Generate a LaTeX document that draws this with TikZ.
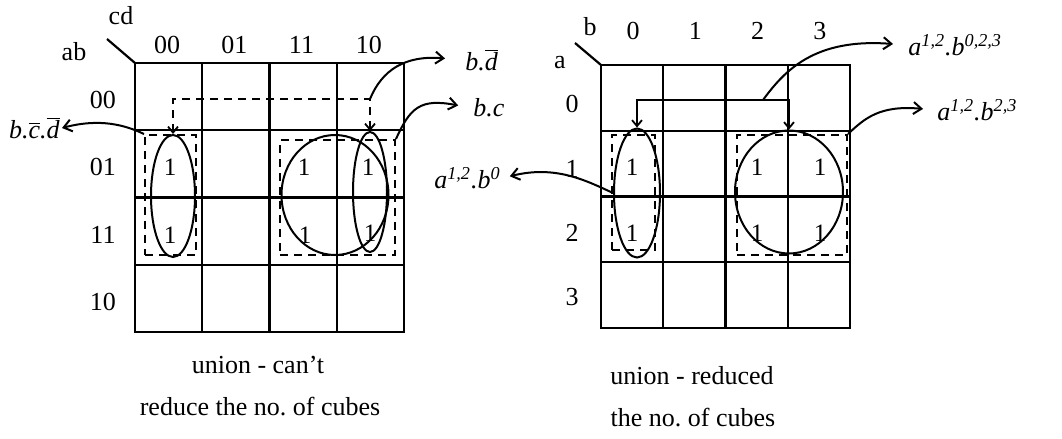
\documentclass[tikz,border=0pt]{standalone}
\usepackage{fontspec}
\setmainfont{Liberation Serif}
\usetikzlibrary{arrows.meta,positioning,calc,shapes.geometric}
\newcommand{\nt}[1]{\ensuremath{\overline{\mbox{\itshape #1}}}}
\newcommand{\sps}[1]{\textsuperscript{\itshape #1}}
\frenchspacing
\begin{document}
\begin{tikzpicture}[x=0.5pt, y=-0.5pt,
  font=\fontsize{13}{15}\selectfont,
  kgrid/.style={line width=1.1pt},
  bit/.style={font=\fontsize{12.5}{14}\selectfont, inner sep=0pt},
  grp/.style={draw, ellipse, line width=1pt, inner sep=0pt},
  cube/.style={draw, line width=1pt, dash pattern=on 4pt off 3pt, inner sep=0pt},
  lbl/.style={font=\fontsize{13}{15}\selectfont\itshape, inner sep=1pt},
  note/.style={font=\fontsize{13}{15}\selectfont},
  arr/.style={-{Straight Barb[length=4pt,width=6pt]}, line width=1pt},
  pair/.style={{Straight Barb[length=3pt,width=5pt]}-{Straight Barb[length=3pt,width=5pt]}, line width=0.9pt}]
\useasboundingbox (0,0) rectangle (1062,439);
% left map
\draw[kgrid] (135,63) rectangle (404,332);
\foreach \k in {1,2,3} {
  \draw[kgrid] (135+67.25*\k,63) -- (135+67.25*\k,332);
  \draw[kgrid] (135,63+67.25*\k) -- (404,63+67.25*\k);
}
\draw[kgrid] (135,63) -- (107,39);
\node (cd) at (121,16) {cd};
\node (ab) at (74,52) {ab};
\foreach \t [count=\i from 0] in {00,01,11,10} {
  \node (lc\i) at (167+67.25*\i,45) {\t};
  \node (lr\i) at (103,100+67.25*\i) {\t};
}
\node[bit] (l1) at (170,167) {1};
\node[bit] (l2) at (170,235) {1};
\node[bit] (l3) at (304,167) {1};
\node[bit] (l4) at (305,235) {1};
\node[bit] (l5) at (368,167) {1};
\node[bit] (l6) at (370,233) {1};
\node[cube, minimum width=25.5pt, minimum height=60pt] (r1) at (170.5,195) {};
\node[cube, minimum width=57.5pt, minimum height=57.5pt] (r2) at (337.5,197.5) {};
\node[grp, minimum width=22pt, minimum height=61pt] (e1) at (173,196) {};
\node[grp, minimum width=53.5pt, minimum height=60pt] (e2) at (335,195) {};
\node[grp, minimum width=17pt, minimum height=60pt] (e3) at (370,192) {};
\path (e1.north) ++(0,-35) coordinate (jl);
\coordinate (jl2) at (e3.north |- jl);
\draw[pair, dash pattern=on 4pt off 3pt] (e1.north) -- (jl) -- (jl2) -- (e3.north);
\node[lbl, anchor=west] (bd) at (463,60) {b.\nt{d}};
\node[lbl, anchor=west] (bc) at (471,108) {b.c};
\node[lbl, anchor=east] (bcd) at (62,128) {b.\nt{c}.\nt{d}};
\draw[arr, shorten >=9pt] (jl2) .. controls (382,70) and (405,55) .. (bd.west);
\draw[arr, shorten >=6.5pt] (r2.north east) .. controls (410,108) and (420,98) .. (bc.west);
\draw[arr] (r1.north west) .. controls (125,125) and (100,118) .. (bcd.east);
% right map
\draw[kgrid] (601,65) rectangle (850,328);
\foreach \k in {1,2,3} {
  \draw[kgrid] (601+62.25*\k,65) -- (601+62.25*\k,328);
  \draw[kgrid] (601,65+65.75*\k) -- (850,65+65.75*\k);
}
\draw[kgrid] (601,65) -- (575,43);
\node (b) at (590,27) {b};
\node (a) at (560,63) {a};
\foreach \t [count=\i from 0] in {0,1,2,3} {
  \node (rc\i) at (633+62.25*\i,31) {\t};
  \node (rr\i) at (572,104+64.5*\i) {\t};
}
\node[bit] (m1) at (632,167) {1};
\node[bit] (m2) at (632,233) {1};
\node[bit] (m3) at (757,167) {1};
\node[bit] (m4) at (820,167) {1};
\node[bit] (m5) at (757,233) {1};
\node[bit] (m6) at (820,233) {1};
\node[cube, minimum width=21.5pt, minimum height=57.5pt] (r3) at (633.5,192.5) {};
\node[cube, minimum width=55pt, minimum height=60pt] (r4) at (792,195) {};
\node[grp, minimum width=23pt, minimum height=64.5pt] (e4) at (637,193) {};
\node[grp, minimum width=54pt, minimum height=61.5pt] (e5) at (789,192) {};
\coordinate (jr) at (763,100);
\draw[pair] (e4.north) |- (jr) -| (e5.north);
\node[lbl, anchor=west] (abt) at (906,45) {a\sps{1,2}.b\sps{0,2,3}};
\node[lbl, anchor=west] (abs) at (935,110) {a\sps{1,2}.b\sps{2,3}};
\node[lbl, anchor=east] (ab0) at (503,178) {a\sps{1,2}.b\sps{0}};
\draw[arr, shorten >=6.5pt] (jr) .. controls (785,70) and (815,38) .. (abt.west);
\draw[arr, shorten >=6pt] (r4.north east) .. controls (865,118) and (880,105) .. (abs.west);
\draw[arr, shorten >=3.5pt] (e4.west) .. controls (585,180) and (555,165) .. (ab0.east);
% captions
\node[note] (capl1) at (258,365) {union - can't};
\node[note] (capl2) at (260,407) {reduce the no. of cubes};
\node[note] (capr1) at (692,376) {union - reduced};
\node[note] (capr2) at (693,418) {the no. of cubes};
\end{tikzpicture}
\end{document}
